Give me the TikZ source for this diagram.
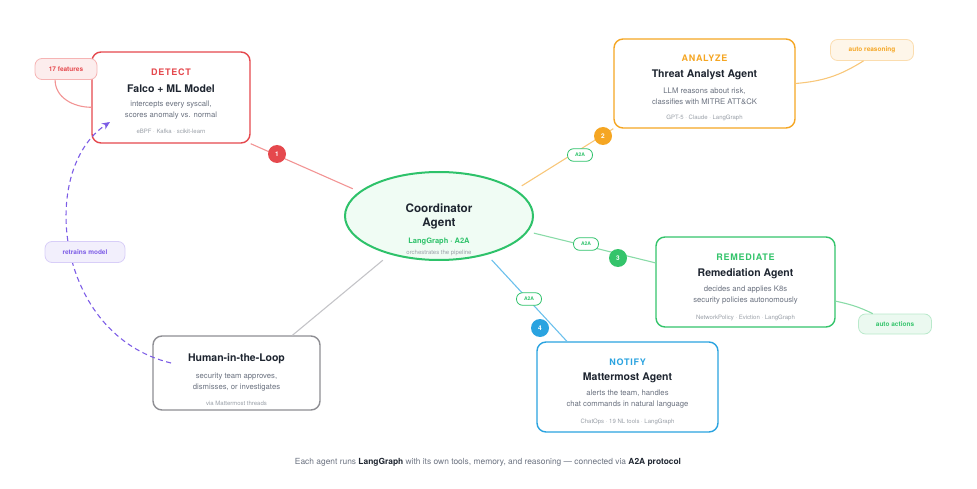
\documentclass[tikz,border=0pt]{standalone}
\usepackage{fontspec}
\setmainfont{TeX Gyre Heros}
\usetikzlibrary{positioning,arrows.meta,shapes.geometric}
\definecolor{inkdark}{HTML}{1E2530}
\definecolor{descgray}{HTML}{6B7280}
\definecolor{toolgray}{HTML}{9AA0A8}
\definecolor{detectred}{HTML}{E5484D}
\definecolor{detectline}{HTML}{F29494}
\definecolor{analyzeorange}{HTML}{F5A623}
\definecolor{analyzeline}{HTML}{F8C77A}
\definecolor{remedgreen}{HTML}{34C46B}
\definecolor{remedline}{HTML}{8ADBA8}
\definecolor{notifyblue}{HTML}{2AA3E0}
\definecolor{notifyline}{HTML}{6BC0EC}
\definecolor{humangray}{HTML}{8E8E93}
\definecolor{humanline}{HTML}{C4C4C8}
\definecolor{coordgreen}{HTML}{2EC26A}
\definecolor{coordfill}{HTML}{F0FCF4}
\definecolor{retrainpurple}{HTML}{7C5CE6}
\tikzset{>=stealth}
\tikzset{
  agentbox/.style={draw=#1,line width=1.4pt,rounded corners=9pt,fill=white},
  tagtext/.style={text=#1,font=\fontsize{9}{9}\selectfont\bfseries\addfontfeature{LetterSpace=8}},
  titletext/.style={text=inkdark,font=\fontsize{10.5}{12}\selectfont\bfseries},
  desctext/.style={text=descgray,font=\fontsize{7.7}{11}\selectfont,align=center},
  tooltext/.style={text=toolgray,font=\fontsize{6}{7}\selectfont},
  badge/.style={circle,fill=#1,text=white,inner sep=0pt,minimum size=18pt,font=\fontsize{6.5}{7}\selectfont\bfseries},
  linkpill/.style={draw=coordgreen,fill=white,rounded corners=6pt,line width=.8pt,minimum width=25pt,minimum height=12.5pt,inner sep=0pt,text=coordgreen,font=\fontsize{5}{6}\selectfont\bfseries},
  notepill/.style n args={3}{draw=#1,fill=#2,text=#3,rounded corners=7pt,line width=.8pt,inner sep=0pt,minimum height=21pt,font=\fontsize{6.5}{7}\selectfont\bfseries},
  link/.style={draw=#1,line width=1.1pt},
}

\begin{document}
\begin{tikzpicture}[x=1pt,y=-1pt]
\useasboundingbox (0,0) rectangle (977,489);
\node[agentbox=detectred,minimum width=158pt,minimum height=91pt] (detect) at (171,97.5) {};
\node[agentbox=analyzeorange,minimum width=181pt,minimum height=89pt] (analyze) at (704.5,83.5) {};
\node[agentbox=remedgreen,minimum width=179pt,minimum height=90pt] (remediate) at (745.5,282) {};
\node[agentbox=notifyblue,minimum width=181pt,minimum height=90pt] (notify) at (627.5,387) {};
\node[agentbox=humangray,minimum width=167pt,minimum height=74pt] (human) at (236.5,373) {};
\node[ellipse,draw=coordgreen,line width=2pt,fill=coordfill,minimum width=188pt,minimum height=88pt] (coord) at (439,216) {};

\node[tagtext=detectred] (detect-tag) at (171,72) {DETECT};
\node[titletext] (detect-title) at (171,89) {Falco + ML Model};
\node[desctext] (detect-desc) at (171,110) {intercepts every syscall,\\scores anomaly vs. normal};
\node[tooltext] (detect-tools) at (171,131) {eBPF · Kafka · scikit-learn};

\node[tagtext=analyzeorange] (analyze-tag) at (704.5,58) {ANALYZE};
\node[titletext] (analyze-title) at (704.5,74.5) {Threat Analyst Agent};
\node[desctext] (analyze-desc) at (704.5,96) {LLM reasons about risk,\\classifies with MITRE ATT\&CK};
\node[tooltext] (analyze-tools) at (704.5,118) {GPT-5 · Claude · LangGraph};

\node[tagtext=remedgreen] (remediate-tag) at (745.5,257) {REMEDIATE};
\node[titletext] (remediate-title) at (745.5,274) {Remediation Agent};
\node[desctext] (remediate-desc) at (745.5,295) {decides and applies K8s\\security policies autonomously};
\node[tooltext] (remediate-tools) at (745.5,318) {NetworkPolicy · Eviction · LangGraph};

\node[tagtext=notifyblue] (notify-tag) at (627.5,362) {NOTIFY};
\node[titletext] (notify-title) at (627.5,378) {Mattermost Agent};
\node[desctext] (notify-desc) at (627.5,399.5) {alerts the team, handles\\chat commands in natural language};
\node[tooltext] (notify-tools) at (627.5,422) {ChatOps · 19 NL tools · LangGraph};

\node[titletext] (human-title) at (236.5,359) {Human-in-the-Loop};
\node[desctext] (human-desc) at (236.5,382.5) {security team approves,\\dismisses, or investigates};
\node[tooltext] (human-tools) at (236.5,403) {via Mattermost threads};

\node[text=inkdark,font=\fontsize{11.7}{14}\selectfont\bfseries,align=center] (coord-title) at (439,216) {Coordinator\\Agent};
\node[text=coordgreen,font=\fontsize{7.5}{8}\selectfont\bfseries] (coord-stack) at (439,241.5) {LangGraph · A2A};
\node[tooltext] (coord-desc) at (439,253) {orchestrates the pipeline};

\draw[link=detectline,shorten >=7pt] (detect.south east) -- (coord.163);
\draw[link=analyzeline,shorten <=7pt] (coord.19) -- (analyze.south west);
\draw[link=remedline,shorten <=6pt] (coord.-10) -- (remediate.168);
\draw[link=notifyline,shorten <=7pt] (coord.-39) -- (notify.143);
\draw[link=humanline,shorten <=9pt] (coord.218) -- (human.34);

\coordinate (retrain-start) at (171,363);
\coordinate (retrain-end) at (110,122);
\draw[retrainpurple,line width=1.1pt,dash pattern=on 5pt off 3.5pt,-{Stealth[length=8pt,width=7pt]}] (retrain-start) .. controls (55,335) and (38,170) .. (retrain-end);

\node[notepill={detectline!70}{detectred!10}{detectred},minimum width=62pt] (feat) at (66,69) {17 features};
\node[notepill={analyzeline!60}{analyzeorange!10}{analyzeorange},minimum width=83pt] (reason) at (872,50) {auto reasoning};
\node[notepill={remedline!60}{remedgreen!10}{remedgreen},minimum width=73pt,minimum height=20pt] (actions) at (895,324) {auto actions};
\node[notepill={retrainpurple!30}{retrainpurple!10}{retrainpurple},minimum width=80pt] (retrain) at (85,252) {retrains model};

\draw[link=detectline] (feat.225) to[out=-90,in=180] (detect.187);
\draw[link=analyzeline] (analyze.east) to[out=5,in=-148] (reason.232);
\draw[link=remedline] (remediate.-12) to[out=-12,in=154] (actions.155);

\node[badge=detectred] (badge-1) at (277,154) {1};
\node[badge=analyzeorange] (badge-2) at (603,136) {2};
\node[badge=remedgreen] (badge-3) at (618,258) {3};
\node[badge=notifyblue] (badge-4) at (540,328) {4};

\node[linkpill] (a2a-analyze) at (580,155) {A2A};
\node[linkpill] (a2a-remediate) at (586,244) {A2A};
\node[linkpill] (a2a-notify) at (529,299) {A2A};

\node[text=descgray,font=\fontsize{8.4}{10}\selectfont] (footer) at (488,462) {Each agent runs \textcolor{inkdark}{\bfseries LangGraph} with its own tools, memory, and reasoning — connected via \textcolor{inkdark}{\bfseries A2A protocol}};
\end{tikzpicture}
\end{document}
